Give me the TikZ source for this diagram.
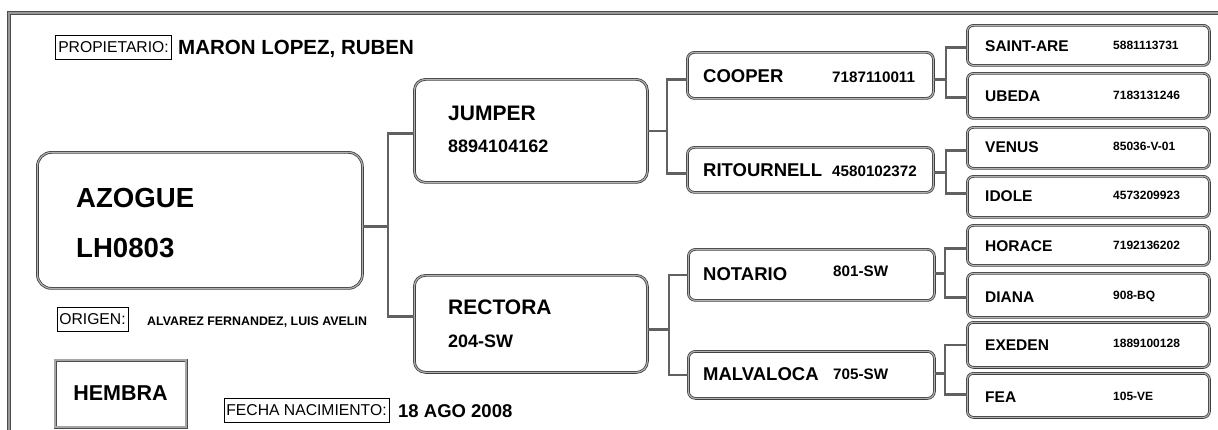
\documentclass[tikz,border=0pt]{standalone}
\usepackage{fontspec}
\setmainfont{Liberation Sans}
\newcommand\myfs[1]{\fontsize{#1}{#1}\selectfont}
\tikzset{
  pbox/.style={draw=black!75, double=black!30, double distance=1.1pt, line width=0.8pt,
    rounded corners=#1, inner sep=0pt, anchor=north west},
  conn/.style={draw=black!62, line width=2.5pt},
  frameline/.style={draw=black!70, double=black!40, double distance=1.6pt, line width=0.9pt},
  lbl/.style={draw=black, line width=0.6pt, inner xsep=2.5pt, inner ysep=0pt, minimum height=24pt, font=\myfs{15.7}},
  nm/.style={anchor=base west, inner sep=0pt, font=\bfseries\myfs{#1}},
}
\begin{document}
\begin{tikzpicture}[x=1pt,y=-1pt]
\useasboundingbox (0,0) rectangle (1218,430);
% outer frame
\draw[frameline] (9,432) -- (9,13) -- (1220,13);

% header
\node[lbl] (propl) at (113.5,47) {PROPIETARIO:};
\node[nm=20.5] (prop) at (178,55) {MARON LOPEZ, RUBEN};

% main animal
\node[pbox=14pt, minimum width=325pt, minimum height=136pt] (az) at (37,152) {};
\node[nm=27.6] (azn) at (76,208) {AZOGUE};
\node[nm=27.6] (azc) at (76,258) {LH0803};

% parents
\node[pbox=11pt, minimum width=233pt, minimum height=103pt] (ju) at (414,79) {};
\node[nm=21] (jun) at (448,121) {JUMPER};
\node[nm=18] (juc) at (448,153) {8894104162};
\node[pbox=11pt, minimum width=233pt, minimum height=97pt] (re) at (414,275) {};
\node[nm=21] (ren) at (448,315) {RECTORA};
\node[nm=18] (rec) at (448,348) {204-SW};

% grandparents
\node[pbox=7pt, minimum width=246pt, minimum height=46pt] (co) at (687,52) {};
\node[nm=18.5] (con) at (703,83) {COOPER};
\node[nm=15.2] (coc) at (832,83) {7187110011};
\node[pbox=7pt, minimum width=246pt, minimum height=45pt] (ri) at (687,147) {};
\node[nm=18.5] (rin) at (703,177) {RITOURNELL};
\node[nm=15.2] (ric) at (832,177) {4580102372};
\node[pbox=7pt, minimum width=246pt, minimum height=51pt] (no) at (688,249) {};
\node[nm=18.5] (non) at (703,281) {NOTARIO};
\node[nm=15.2] (noc) at (833,277) {801-SW};
\node[pbox=7pt, minimum width=246pt, minimum height=47pt] (ma) at (688,351) {};
\node[nm=18.5] (man) at (703,380) {MALVALOCA};
\node[nm=15.2] (mac) at (833,379) {705-SW};

% great-grandparents
\node[pbox=6pt, minimum width=242pt, minimum height=40pt] (sa) at (967,25) {};
\node[nm=15.5] (san) at (985,52) {SAINT-ARE};
\node[nm=12] (sac) at (1113,50) {5881113731};
\node[pbox=6pt, minimum width=242pt, minimum height=45pt] (ub) at (967,73) {};
\node[nm=15.5] (ubn) at (985,102) {UBEDA};
\node[nm=12] (ubc) at (1113,100) {7183131246};
\node[pbox=6pt, minimum width=242pt, minimum height=41pt] (ve) at (967,127) {};
\node[nm=15.5] (ven) at (985,153) {VENUS};
\node[nm=12] (vec) at (1113,151) {85036-V-01};
\node[pbox=6pt, minimum width=242pt, minimum height=41pt] (id) at (967,176) {};
\node[nm=15.5] (idn) at (985,202) {IDOLE};
\node[nm=12] (idc) at (1113,200) {4573209923};
\node[pbox=6pt, minimum width=242pt, minimum height=40pt] (ho) at (967,225) {};
\node[nm=15.5] (hon) at (985,252) {HORACE};
\node[nm=12] (hoc) at (1113,250) {7192136202};
\node[pbox=6pt, minimum width=242pt, minimum height=44pt] (di) at (967,273) {};
\node[nm=15.5] (din) at (985,302) {DIANA};
\node[nm=12] (dic) at (1113,300) {908-BQ};
\node[pbox=6pt, minimum width=242pt, minimum height=45pt] (ex) at (967,322) {};
\node[nm=15.5] (exn) at (985,350) {EXEDEN};
\node[nm=12] (exc) at (1113,348) {1889100128};
\node[pbox=6pt, minimum width=242pt, minimum height=44pt] (fe) at (967,373) {};
\node[nm=15.5] (fen) at (985,402) {FEA};
\node[nm=12] (fec) at (1113,400) {105-VE};

% connectors
\draw[conn] ([yshift=-6pt]az.east) -- ++(25,0) coordinate (j1);
\draw[conn] ([yshift=-2.5pt]ju.west) -| (j1) |- ([yshift=7.5pt]re.west);
\draw[conn] (ju.east) -- ++(19,0) coordinate (j2);
\draw[conn] ([yshift=-4pt]co.west) -| (j2) |- ([yshift=-3.5pt]ri.west);
\draw[conn] ([yshift=-5.5pt]re.east) -- ++(21,0) coordinate (j3);
\draw[conn] (no.west) -| (j3) |- (ma.west);
\draw[conn] ([yshift=-4pt]co.east) -- ++(12,0) coordinate (j4);
\draw[conn] ([yshift=-2pt]sa.west) -| (j4) |- ([yshift=-1.5pt]ub.west);
\draw[conn] ([yshift=-2.5pt]ri.east) -- ++(12,0) coordinate (j5);
\draw[conn] ([yshift=-2.5pt]ve.west) -| (j5) |- ([yshift=3.5pt]id.west);
\draw[conn] ([yshift=1.5pt]no.east) -- ++(10,0) coordinate (j6);
\draw[conn] ([yshift=-3pt]ho.west) -| (j6) |- ([yshift=-2pt]di.west);
\draw[conn] ([yshift=1.5pt]ma.east) -- ++(10,0) coordinate (j7);
\draw[conn] (ex.west) -| (j7) |- ([yshift=1pt]fe.west);

% bottom left info
\node[lbl] (origl) at (92.5,319) {ORIGEN:};
\node[nm=12.4] (orig) at (147,326) {ALVAREZ FERNANDEZ, LUIS AVELIN};
\node[draw=black!70, double=black!35, double distance=1.4pt, line width=0.8pt,
  minimum width=131pt, minimum height=67pt, inner sep=0pt, font=\bfseries\myfs{21.5}] (hem) at (120.5,393.5) {HEMBRA};
\node[lbl] (fechl) at (306.5,410.5) {FECHA NACIMIENTO:};
\node[nm=18.5] (fech) at (398,417) {18 AGO 2008};
\end{tikzpicture}
\end{document}
